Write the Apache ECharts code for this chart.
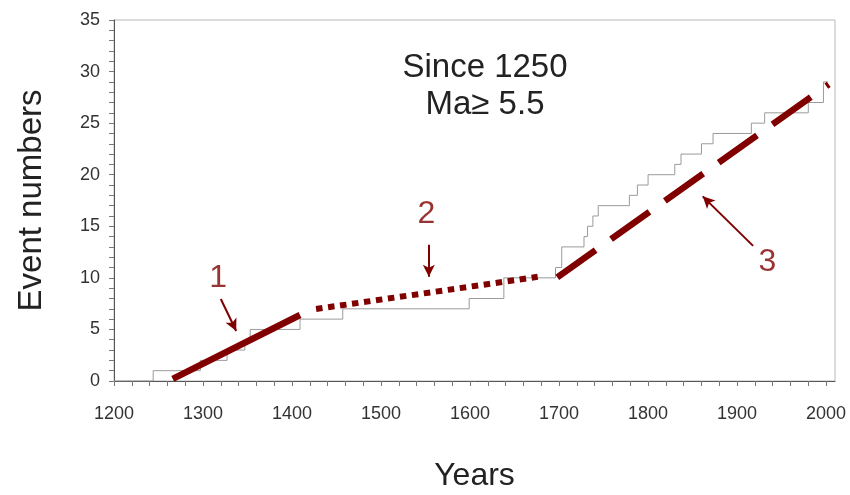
<!DOCTYPE html>
<html>
<head>
<meta charset="utf-8">
<script src="https://cdn.jsdelivr.net/npm/echarts@6/dist/echarts.min.js"></script>
<style>
  html, body { margin: 0; padding: 0; background: #ffffff; }
  #chart { width: 850px; height: 495px; }
</style>
</head>
<body>
<div id="chart"></div>
<script>
// Axis tick values
const yearLabels = [1200, 1300, 1400, 1500, 1600, 1700, 1800, 1900, 2000];
const yearTicks = [];
for (let y = 1200; y <= 2000; y += 20) yearTicks.push(y);
const countLabels = [0, 5, 10, 15, 20, 25, 30, 35];
const countTicks = [];
for (let c = 0; c <= 35; c += 1) countTicks.push(c);

// Cumulative number of events: [year, count reached in that year]
const cumulativeEvents = [
  [1200, 0], [1244, 1], [1297, 2], [1327, 3], [1347, 4], [1353, 5],
  [1409, 6], [1457, 7], [1599, 8], [1638, 10], [1696, 11], [1703, 13],
  [1728, 14], [1732, 15], [1738, 16], [1744, 17], [1779, 18], [1788, 19],
  [1800, 20], [1830, 21], [1837, 22], [1860, 23], [1873, 24], [1916, 25],
  [1931, 26], [1980, 27], [1997, 29], [2002, 29]
];

// Linear rate segments
const trend1 = [[1266, 0.2], [1409, 6.4]];
const trend2 = [[1427, 6.98], [1676, 10.1]];
const trend3 = [[1698, 10.05], [2003, 28.75]];

// Period callouts: arrow tail, arrow tip, label position
const calloutNames = ['1', '2', '3'];
const arrowTails = [[1320, 7.95], [1553.7, 13.2], [1918, 13.1]];
const arrowTips = [[1337.3, 4.85], [1553.7, 10.1], [1861.4, 17.9]];
const calloutPos = [[1317, 10.0], [1551, 16.2], [1934, 11.5]];

const RED = '#800000';
const TICK_FONT = 'Liberation Sans Narrow, Arial Narrow, Liberation Sans, Arial, sans-serif';

const chart = echarts.init(document.getElementById('chart'), null, { renderer: 'canvas' });

chart.setOption({
  animation: false,
  backgroundColor: '#ffffff',
  title: {
    text: 'Since 1250\nMa\u2265 5.5',
    left: 480,
    top: 44,
    textAlign: 'center',
    textStyle: {
      fontFamily: 'Liberation Sans, Arial, sans-serif',
      fontSize: 33,
      fontWeight: 'normal',
      color: '#222222',
      lineHeight: 37
    }
  },
  grid: {
    left: 114, right: 15, top: 20, bottom: 114,
    outerBoundsMode: 'none',
    containLabel: false,
    show: true,
    borderColor: '#b8b8b8',
    borderWidth: 1,
    backgroundColor: 'transparent'
  },
  xAxis: {
    type: 'value',
    min: 1200,
    max: 2010,
    name: 'Years',
    nameLocation: 'middle',
    nameGap: 79,
    nameMoveOverlap: false,
    nameTextStyle: { fontFamily: 'Liberation Sans, Arial, sans-serif', fontSize: 32, color: '#222222' },
    axisLine: { show: true, lineStyle: { color: '#555555', width: 1 } },
    axisTick: { show: true, length: 5, customValues: yearTicks, lineStyle: { color: '#777777' } },
    axisLabel: {
      customValues: yearLabels,
      formatter: (v) => String(v),
      margin: 24,
      fontFamily: TICK_FONT,
      fontSize: 18,
      color: '#333333'
    },
    splitLine: { show: false }
  },
  yAxis: {
    type: 'value',
    min: 0,
    max: 35,
    name: 'Event numbers',
    nameLocation: 'middle',
    nameGap: 66,
    nameRotate: 90,
    nameMoveOverlap: false,
    nameTextStyle: { fontFamily: 'Liberation Sans, Arial, sans-serif', fontSize: 33, color: '#222222' },
    axisLine: { show: true, lineStyle: { color: '#555555', width: 1 } },
    axisTick: { show: true, length: 5, customValues: countTicks, lineStyle: { color: '#777777' } },
    axisLabel: {
      customValues: countLabels,
      formatter: (v) => String(v),
      margin: 14,
      fontFamily: TICK_FONT,
      fontSize: 18,
      color: '#333333'
    },
    splitLine: { show: false }
  },
  series: [
    {
      name: 'events',
      type: 'line',
      step: 'end',
      data: cumulativeEvents,
      symbol: 'none',
      lineStyle: { color: '#9a9a9a', width: 1 },
      z: 2
    },
    {
      name: 'period 1',
      type: 'line',
      data: trend1,
      symbol: 'none',
      lineStyle: { color: RED, width: 6.5, cap: 'butt' },
      z: 3
    },
    {
      name: 'period 2',
      type: 'line',
      data: trend2,
      symbol: 'none',
      lineStyle: { color: RED, width: 6, type: [6.5, 5.6], cap: 'butt' },
      z: 3
    },
    {
      name: 'period 3',
      type: 'line',
      data: trend3,
      symbol: 'none',
      lineStyle: { color: RED, width: 6.5, type: [47, 19], cap: 'butt' },
      z: 3
    },
    {
      name: 'callouts',
      type: 'scatter',
      data: calloutPos.map((p, i) => ({ value: p, name: calloutNames[i] })),
      symbolSize: 1,
      itemStyle: { color: 'transparent' },
      label: {
        show: true,
        position: 'inside',
        formatter: (p) => p.name,
        fontFamily: 'Liberation Sans, Arial, sans-serif',
        fontSize: 32,
        color: RED
      },
      markLine: {
        silent: true,
        symbol: ['none', 'arrow'],
        symbolSize: [9, 12],
        label: { show: false },
        lineStyle: { color: RED, width: 2, type: 'solid' },
        data: arrowTails.map((t, i) => [{ coord: t }, { coord: arrowTips[i] }])
      },
      z: 4
    }
  ]
});
</script>
</body>
</html>
